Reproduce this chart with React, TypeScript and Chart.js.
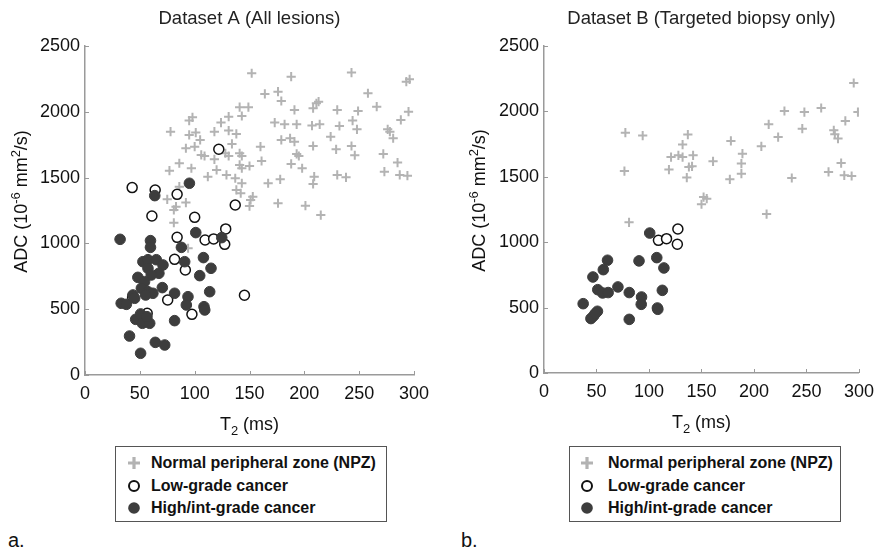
import React, { useEffect, useRef } from "react";
import { Chart, registerables } from "chart.js";

Chart.register(...registerables);

const FONT = "'Liberation Sans', Arial, Helvetica, sans-serif";
const AXIS_COLOR = "#9a9a9a";
const NPZ_COLOR = "#b3b3b3";
const HIGH_COLOR = "#3d3d3d";

const X_TICKS = [0, 50, 100, 150, 200, 250, 300];
const Y_TICKS = [0, 500, 1000, 1500, 2000, 2500];
type Part = { t: string; sup?: boolean; sub?: boolean };
const X_TITLE_PARTS: Part[] = [{ t: "T" }, { t: "2", sub: true }, { t: " (ms)" }];
const Y_TITLE_PARTS: Part[] = [{ t: "ADC (10" }, { t: "-6", sup: true }, { t: " mm" }, { t: "2", sup: true }, { t: "/s)" }];
const LEGEND_LABELS = ["Normal peripheral zone (NPZ)", "Low-grade cancer", "High/int-grade cancer"];

// Dataset A: [T2 (ms), ADC]
const A_NPZ: [number, number][] = [
  [152, 2293], [164, 2136], [176, 2153], [141, 2035], [149, 2035], [131, 1963], [143, 1968],
  [98, 1958], [95, 1933], [124, 1918], [173, 1918], [78, 1849], [101, 1842], [95, 1824],
  [118, 1849], [131, 1857], [138, 1832], [105, 1786], [134, 1756], [160, 1735], [92, 1723],
  [100, 1735], [106, 1672], [109, 1664], [128, 1685], [141, 1685], [143, 1664], [131, 1664],
  [118, 1639], [86, 1609], [161, 1626], [77, 1553], [97, 1571], [120, 1558], [141, 1596],
  [150, 1588], [143, 1571], [112, 1507], [129, 1520], [137, 1495], [167, 1457], [143, 1457],
  [138, 1406], [142, 1381], [153, 1355], [151, 1330], [86, 1431], [92, 1310], [75, 1335],
  [83, 1279], [176, 1305], [150, 1284],
  [188, 2267], [243, 2298], [293, 2229], [296, 2247], [179, 2082], [211, 2065], [213, 2077],
  [258, 2141], [266, 2039], [191, 2014], [208, 2027], [230, 2014], [249, 2006], [295, 2001],
  [182, 1905], [193, 1905], [207, 1895], [214, 1905], [232, 1892], [244, 1933], [248, 1867],
  [288, 1938], [276, 1867], [278, 1849], [281, 1799], [224, 1811], [179, 1786], [187, 1799],
  [191, 1773], [208, 1740], [229, 1715], [243, 1740], [246, 1670], [193, 1680], [195, 1664],
  [272, 1680], [188, 1604], [198, 1571], [285, 1614], [273, 1545], [287, 1520], [294, 1515],
  [209, 1507], [208, 1452], [230, 1520], [238, 1502], [178, 1487], [201, 1287], [215, 1215],
  [81, 1254], [81, 1157], [94, 963],
];
const A_LOW: [number, number][] = [
  [43, 1424], [64, 1406], [84, 1373], [122, 1715], [137, 1292], [61, 1208], [100, 1198],
  [84, 1046], [109.5, 1026], [117.3, 1034], [128.3, 1110], [127.4, 993], [81.7, 879],
  [91.5, 798], [145.4, 606], [75.4, 570], [97.5, 461], [56.7, 469], [43.4, 593],
];
const A_HIGH: [number, number][] = [
  [95.2, 1457], [63.6, 1363], [32, 1031], [59.7, 1021], [59.7, 970], [101, 1082], [124.7, 1044],
  [87.9, 970], [108, 892], [114.9, 811], [104.6, 755], [90.9, 861], [52.8, 861], [57.4, 876],
  [65, 876], [71.1, 836], [57.4, 811], [67.4, 773], [60.4, 760], [48.2, 742], [54.3, 709],
  [51.4, 659], [57.4, 633], [61.9, 621], [55.3, 608], [70.5, 664], [43.7, 608], [45.3, 583],
  [33, 545], [37.7, 537], [81.7, 621], [93.9, 595], [92.4, 532], [113.7, 633], [108.5, 519],
  [109.2, 494], [46.2, 423], [50.7, 464], [52.3, 393], [59, 393], [56.5, 443], [81.7, 413],
  [40.6, 296], [64.1, 248], [72.7, 228], [50.7, 165],
];

// Dataset B: [T2 (ms), ADC]
const B_NPZ: [number, number][] = [
  [77.5, 1837], [94, 1815], [76.6, 1544], [137, 1823], [132, 1746], [121, 1651], [128, 1664],
  [132, 1651], [142, 1664], [119, 1555], [138, 1575], [141, 1580], [136, 1494], [295, 2217],
  [299, 1995], [229, 2003], [248, 1995], [264, 2026], [214, 1901], [287, 1927], [246, 1868],
  [276, 1856], [277, 1826], [280, 1792], [223, 1804], [207, 1733], [178, 1774], [161, 1618],
  [189, 1677], [188, 1601], [188, 1524], [177, 1481], [236, 1491], [283, 1605], [271, 1537],
  [286, 1511], [293, 1506], [152, 1345], [155, 1333], [150, 1290], [212, 1215], [81, 1152],
];
const B_LOW: [number, number][] = [
  [127.5, 1101], [109, 1014], [116.7, 1027], [127, 984],
];
const B_HIGH: [number, number][] = [
  [100.7, 1070], [107.4, 882], [90.5, 857], [60.5, 862], [56.5, 790], [46.6, 734], [114.2, 803],
  [51.2, 637], [55.8, 612], [61.1, 615], [70.4, 658], [81.2, 615], [112.7, 632], [92.9, 581],
  [92.6, 525], [37.3, 530], [50.9, 472], [47.2, 436], [44.7, 416], [48.8, 454], [81.2, 410],
  [108, 497], [108.4, 487],
];

const toPts = (arr: [number, number][]) => arr.map(([x, y]) => ({ x, y }));

const TITLE_SIZE = 18;

function drawParts(ctx: CanvasRenderingContext2D, parts: Part[], size: number) {
  const small = size * 0.72;
  const fontFor = (p: Part) => `${p.sup || p.sub ? small : size}px ${FONT}`;
  let total = 0;
  parts.forEach((p) => {
    ctx.font = fontFor(p);
    total += ctx.measureText(p.t).width;
  });
  let x = -total / 2;
  ctx.textAlign = "left";
  ctx.textBaseline = "alphabetic";
  parts.forEach((p) => {
    ctx.font = fontFor(p);
    const dy = p.sup ? -size * 0.38 : p.sub ? size * 0.28 : 0;
    ctx.fillText(p.t, x, dy);
    x += ctx.measureText(p.t).width;
  });
}

const axisTitles = {
  id: "axisTitles",
  afterDraw(chart: any) {
    const { ctx, chartArea } = chart;
    ctx.save();
    ctx.fillStyle = "#111";
    // x title
    ctx.save();
    ctx.translate((chartArea.left + chartArea.right) / 2, chartArea.bottom + 55);
    drawParts(ctx, X_TITLE_PARTS, TITLE_SIZE);
    ctx.restore();
    // y title
    ctx.save();
    ctx.translate(26.5, (chartArea.top + chartArea.bottom) / 2 - 9);
    ctx.rotate(-Math.PI / 2);
    drawParts(ctx, Y_TITLE_PARTS, TITLE_SIZE);
    ctx.restore();
    ctx.restore();
  },
};

const inwardTicks = {
  id: "inwardTicks",
  afterDatasetsDraw(chart: any) {
    const { ctx, chartArea, scales } = chart;
    const xs = scales.x;
    const ys = scales.y;
    ctx.save();
    ctx.strokeStyle = AXIS_COLOR;
    ctx.lineWidth = 1;
    X_TICKS.forEach((v) => {
      const px = Math.round(xs.getPixelForValue(v)) + 0.5;
      ctx.beginPath();
      ctx.moveTo(px, chartArea.bottom);
      ctx.lineTo(px, chartArea.bottom - 4);
      ctx.stroke();
    });
    Y_TICKS.forEach((v) => {
      const py = Math.round(ys.getPixelForValue(v)) + 0.5;
      ctx.beginPath();
      ctx.moveTo(chartArea.left, py);
      ctx.lineTo(chartArea.left + 4, py);
      ctx.stroke();
    });
    ctx.restore();
  },
};

type PanelProps = {
  left: number;
  width: number;
  height: number;
  title: string;
  npz: [number, number][];
  low: [number, number][];
  high: [number, number][];
  yAxisWidth: number;
  xAxisHeight: number;
  padRight: number;
};

function Panel(p: PanelProps) {
  const ref = useRef<HTMLCanvasElement | null>(null);
  useEffect(() => {
    if (!ref.current) return;
    const tickFont = { family: FONT, size: 18 };
    const chart = new Chart(ref.current, {
      type: "scatter",
      data: {
        datasets: [
          {
            label: LEGEND_LABELS[0],
            data: toPts(p.npz),
            pointStyle: "cross",
            pointRadius: 4.6,
            pointBorderWidth: 2,
            borderColor: NPZ_COLOR,
            backgroundColor: NPZ_COLOR,
            order: 3,
          },
          {
            label: LEGEND_LABELS[1],
            data: toPts(p.low),
            pointStyle: "circle",
            pointRadius: 5,
            pointBorderWidth: 1.5,
            borderColor: "#111",
            backgroundColor: "#ffffff",
            order: 2,
          },
          {
            label: LEGEND_LABELS[2],
            data: toPts(p.high),
            pointStyle: "circle",
            pointRadius: 5.3,
            pointBorderWidth: 1,
            borderColor: HIGH_COLOR,
            backgroundColor: HIGH_COLOR,
            order: 1,
          },
        ],
      },
      options: {
        animation: false,
        responsive: false,
        maintainAspectRatio: false,
        devicePixelRatio: 1,
        layout: { padding: { left: 0, right: p.padRight, top: 0, bottom: 0 } },
        plugins: {
          legend: { display: false },
          tooltip: { enabled: false },
          title: {
            display: true,
            text: p.title,
            fullSize: false,
            color: "#222",
            font: { family: FONT, size: 18.5, weight: "normal" },
            padding: { top: 8, bottom: 15.8 },
          },
        },
        scales: {
          x: {
            type: "linear",
            min: 0,
            max: 300,
            afterFit: (s: any) => {
              s.height = p.xAxisHeight;
            },
            afterBuildTicks: (s: any) => {
              s.ticks = X_TICKS.map((v) => ({ value: v }));
            },
            ticks: { font: tickFont, color: "#111", padding: 8, maxRotation: 0, callback: (v: any) => String(v) },
            grid: { display: true, drawOnChartArea: false, drawTicks: false },
            border: { display: true, color: AXIS_COLOR, width: 1.5 },
            title: { display: false },
          },
          y: {
            type: "linear",
            min: 0,
            max: 2500,
            afterFit: (s: any) => {
              s.width = p.yAxisWidth;
            },
            afterBuildTicks: (s: any) => {
              s.ticks = Y_TICKS.map((v) => ({ value: v }));
            },
            ticks: { font: tickFont, color: "#111", padding: 5, callback: (v: any) => String(v) },
            grid: { display: true, drawOnChartArea: false, drawTicks: false },
            border: { display: true, color: AXIS_COLOR, width: 1.5 },
            title: { display: false },
          },
        },
      },
      plugins: [inwardTicks, axisTitles],
    } as any);
    return () => chart.destroy();
  }, []);
  return (
    <canvas
      ref={ref}
      width={p.width}
      height={p.height}
      style={{ position: "absolute", left: p.left, top: 0, width: p.width, height: p.height }}
    />
  );
}

function Icon({ kind }: { kind: number }) {
  if (kind === 0) {
    return (
      <svg width="14" height="14" viewBox="0 0 14 14">
        <path d="M7 1 V13 M1 7 H13" stroke={NPZ_COLOR} strokeWidth="3.2" />
      </svg>
    );
  }
  if (kind === 1) {
    return (
      <svg width="14" height="14" viewBox="0 0 14 14">
        <circle cx="7" cy="7" r="5" fill="#fff" stroke="#111" strokeWidth="2" />
      </svg>
    );
  }
  return (
    <svg width="14" height="14" viewBox="0 0 14 14">
      <circle cx="7" cy="7" r="5.8" fill={HIGH_COLOR} />
    </svg>
  );
}

function Legend({ left, iconX, textX }: { left: number; iconX: number; textX: number }) {
  const rowTops = [6, 29, 51];
  return (
    <div
      style={{
        position: "absolute",
        left,
        top: 446,
        width: 272,
        height: 76,
        border: "1px solid #555",
        boxSizing: "border-box",
        fontFamily: FONT,
        fontWeight: "bold",
        fontSize: 16,
        color: "#111",
      }}
    >
      {LEGEND_LABELS.map((lab, i) => (
        <div key={lab} style={{ position: "absolute", left: 0, top: rowTops[i] - 1, height: 22, width: "100%" }}>
          <div style={{ position: "absolute", left: iconX - 7, top: 4, width: 14, height: 14 }}>
            <Icon kind={i} />
          </div>
          <div style={{ position: "absolute", left: textX, top: 0, lineHeight: "22px", whiteSpace: "nowrap" }}>{lab}</div>
        </div>
      ))}
    </div>
  );
}

export default function App() {
  const panelLabel: React.CSSProperties = {
    position: "absolute",
    top: 528,
    fontFamily: "'Liberation Sans Narrow', 'Liberation Sans', Arial, sans-serif",
    fontSize: 20,
    color: "#111",
    lineHeight: "24px",
  };
  return (
    <div style={{ position: "absolute", left: 0, top: 0, width: 882, height: 559, background: "#fff", overflow: "hidden" }}>
      <Panel
        left={0}
        width={441}
        height={440}
        title="Dataset A (All lesions)"
        npz={A_NPZ}
        low={A_LOW}
        high={A_HIGH}
        yAxisWidth={85}
        xAxisHeight={65}
        padRight={27}
      />
      <Panel
        left={458}
        width={424}
        height={440}
        title="Dataset B (Targeted biopsy only)"
        npz={B_NPZ}
        low={B_LOW}
        high={B_HIGH}
        yAxisWidth={86}
        xAxisHeight={67}
        padRight={16}
      />
      <Legend left={115} iconX={18} textX={35} />
      <Legend left={569} iconX={17} textX={38} />
      <div style={{ ...panelLabel, left: 8 }}>a.</div>
      <div style={{ ...panelLabel, left: 461 }}>b.</div>
    </div>
  );
}
